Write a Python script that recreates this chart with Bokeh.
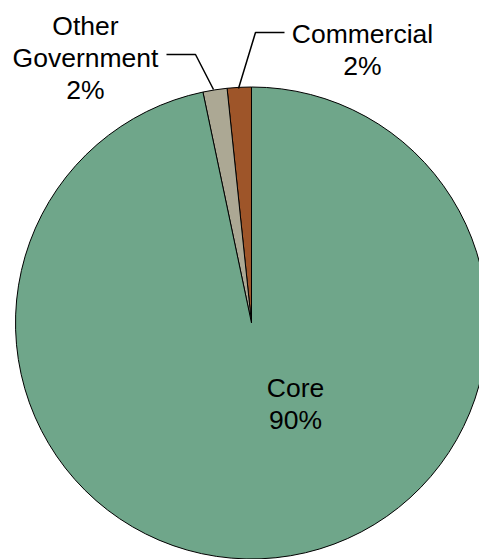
import numpy as np
from bokeh.plotting import figure
from bokeh.models import Range1d
from bokeh.core.properties import value
from bokeh.embed import file_html
from bokeh.resources import INLINE

# Data (anticlockwise from 12 o'clock, as drawn)
categories = ["Commercial", "Other Government", "Core"]
shares = [1.65, 1.65, 96.7]
pct_labels = ["2%", "2%", "90%"]
colors = ["#9e5529", "#aca894", "#6fa68a"]

W, H = 479, 559
p = figure(width=W, height=H, output_backend="svg", toolbar_location=None,
           x_range=Range1d(0, W), y_range=Range1d(0, H), min_border=0)
p.axis.visible = False
p.grid.visible = False
p.outline_line_color = None
p.background_fill_color = "white"

cx, cy, r = 251, H - 322.5, 236
vals = np.array(shares, dtype=float)
frac = vals / vals.sum()
ends = np.pi / 2 + 2 * np.pi * np.cumsum(frac)
starts = np.concatenate([[np.pi / 2], ends[:-1]])

p.wedge(x=[cx] * 3, y=[cy] * 3, radius=r, start_angle=list(starts), end_angle=list(ends),
        direction="anticlock", fill_color=colors, line_color="black", line_width=1)

font = value("Liberation Sans")
fs = "26.5px"

def Y(py):
    return H - py

# Commercial label
p.text(x=[362, 362], y=[Y(33), Y(65)], text=[categories[0], pct_labels[0]],
       text_font=font, text_font_size=fs, text_align="center", text_baseline="middle",
       text_color="black")
# Other Government label
p.text(x=[85, 85, 85], y=[Y(25), Y(57), Y(89)], text=["Other", "Government", pct_labels[1]],
       text_font=font, text_font_size=fs, text_align="center", text_baseline="middle",
       text_color="black")
# Core label
p.text(x=[295, 295], y=[Y(387), Y(419)], text=[categories[2], pct_labels[2]],
       text_font=font, text_font_size=fs, text_align="center", text_baseline="middle",
       text_color="black")

# leader lines
p.line(x=[238, 255, 284], y=[Y(88), Y(32), Y(32)], line_color="black", line_width=1.5)
p.line(x=[166, 195, 213], y=[Y(54), Y(54), Y(89)], line_color="black", line_width=1.5)

open("out.html", "w").write(file_html(p, INLINE))
